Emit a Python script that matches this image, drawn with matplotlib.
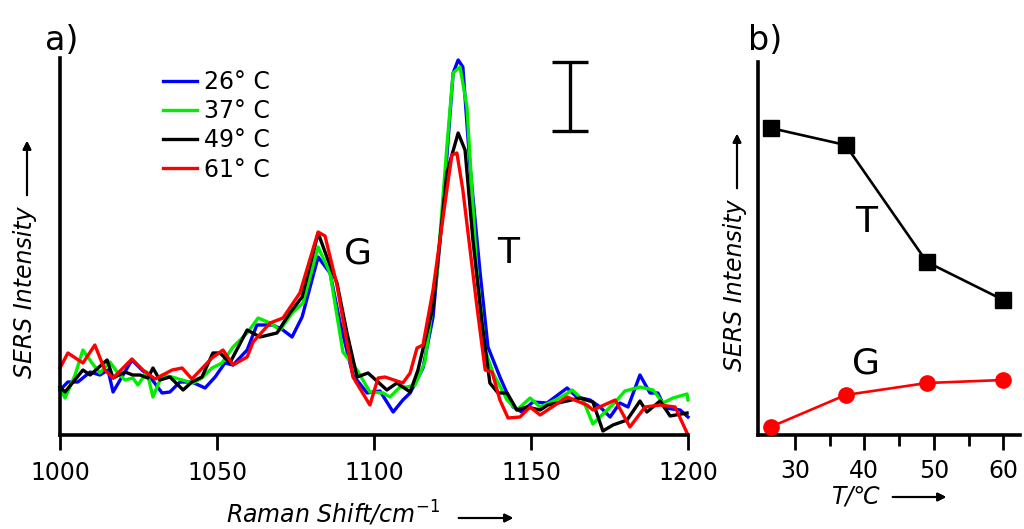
import numpy as np
import matplotlib
matplotlib.use('Agg')
import matplotlib.pyplot as plt

plt.rcParams['font.family'] = ['DejaVu Sans']

# --- panel a: spectra (Raman shift in cm-1, intensity in arbitrary units) ---
x26 = [1000, 1002.5, 1005.7, 1009.6, 1012.7, 1015.3, 1016.9, 1019.7, 1022.9, 1026.1, 1028.7,
       1032.5, 1035.0, 1038.2, 1042.0, 1046.2, 1049.4, 1052.5, 1055.1, 1059.6, 1062.7, 1067.8,
       1071.0, 1073.9, 1077.1, 1082.2, 1086.0, 1089.2, 1093.3, 1097.8, 1101.9, 1106.1, 1109.2,
       1111.5, 1115.6, 1118.8, 1122.0, 1125.2, 1126.8, 1128.3, 1130.6, 1133.8, 1136.3, 1140.1,
       1144.3, 1147.1, 1150.6, 1155.1, 1161.5, 1164.6, 1168.8, 1172.0, 1175.2, 1178.3, 1180.9,
       1184.7, 1187.9, 1190.4, 1192.7, 1197.5, 1200]
y26 = [45, 53, 53, 63, 60, 65, 43, 58, 75, 65, 58,
       42, 43, 53, 53, 47, 58, 72, 70, 85, 110, 110,
       105, 98, 118, 178, 162, 112, 60, 42, 44, 23, 35,
       42, 67, 118, 228, 362, 375, 368, 268, 162, 88, 58,
       28, 23, 33, 32, 47, 38, 35, 28, 18, 32, 28,
       60, 42, 42, 27, 25, 18]

x37 = [1000, 1001.6, 1004.8, 1007.3, 1010.2, 1012.7, 1015.9, 1018.2, 1020.7, 1023.2, 1024.8,
       1027.7, 1029.6, 1032.5, 1035.7, 1038.9, 1042.4, 1045.2, 1048.4, 1051.6, 1055.1, 1059.6,
       1063.1, 1066.9, 1070.1, 1074.2, 1077.4, 1082.2, 1086.0, 1090.1, 1094.6, 1098.7, 1102.9,
       1105.1, 1108.3, 1110.5, 1113.1, 1116.2, 1120.1, 1123.2, 1125.2, 1127.4, 1129.6, 1132.8,
       1135.4, 1137.9, 1142.4, 1145.5, 1149.7, 1152.9, 1159.2, 1163.1, 1166.6, 1169.7, 1173.6,
       1177.4, 1179.9, 1184.7, 1188.9, 1192.0, 1195.2, 1199.7, 1200]
y37 = [47, 37, 60, 85, 72, 62, 73, 63, 55, 57, 50,
       63, 38, 60, 58, 55, 52, 57, 67, 72, 88, 102,
       117, 112, 105, 123, 132, 188, 162, 83, 65, 43, 42,
       38, 48, 48, 50, 73, 162, 288, 362, 368, 328, 162,
       85, 62, 35, 25, 37, 28, 37, 45, 35, 11, 23,
       35, 44, 48, 45, 32, 37, 41, 35]

x49 = [1000, 1001.6, 1007.3, 1009.6, 1015.0, 1016.9, 1020.7, 1023.2, 1025.5, 1028.0, 1029.6,
       1031.8, 1035.0, 1039.2, 1042.0, 1045.2, 1048.7, 1051.0, 1054.1, 1059.6, 1063.7, 1069.1,
       1073.2, 1077.1, 1082.2, 1085.0, 1088.2, 1091.4, 1094.6, 1098.1, 1104.1, 1107.3, 1111.5,
       1114.0, 1118.8, 1123.2, 1126.8, 1129.0, 1131.5, 1134.4, 1136.9, 1139.5, 1142.4, 1145.5,
       1148.7, 1152.9, 1155.4, 1161.5, 1165.6, 1169.7, 1172.9, 1176.1, 1180.6, 1184.7, 1186.9,
       1191.1, 1194.3, 1199.7]
y49 = [48, 43, 65, 60, 75, 57, 63, 60, 60, 57, 67,
       55, 58, 45, 53, 58, 82, 82, 72, 105, 98, 102,
       122, 138, 202, 178, 152, 102, 58, 62, 45, 52, 43,
       65, 128, 262, 302, 285, 195, 112, 52, 42, 42, 25,
       28, 25, 30, 34, 37, 33, 4, 10, 15, 34, 23,
       34, 19, 22]

x61 = [1000, 1002.5, 1007.3, 1011.1, 1014.3, 1016.9, 1022.9, 1026.4, 1030.3, 1035.7, 1038.9,
       1042.0, 1048.4, 1051.9, 1055.1, 1059.6, 1061.5, 1066.9, 1071.0, 1076.4, 1082.2, 1084.4,
       1088.2, 1093.3, 1098.7, 1101.3, 1103.5, 1109.2, 1111.5, 1113.7, 1115.6, 1118.8, 1123.2,
       1124.8, 1126.4, 1128.3, 1132.8, 1135.4, 1137.6, 1140.1, 1142.7, 1146.5, 1149.7, 1152.9,
       1161.5, 1167.8, 1169.7, 1176.8, 1181.5, 1186.3, 1191.1, 1195.9, 1199.7]
y61 = [67, 82, 72, 90, 65, 57, 76, 65, 56, 65, 67,
       56, 77, 85, 70, 78, 93, 112, 117, 142, 203, 199,
       150, 58, 30, 57, 58, 52, 62, 87, 90, 145, 245,
       280, 282, 245, 128, 65, 63, 35, 17, 18, 28, 20,
       38, 30, 25, 35, 8, 28, 30, 28, 2]

labels = ['26° C', '37° C', '49° C', '61° C']
colors = ['#0000ff', '#00ee00', '#000000', '#ff0000']

# --- panel b: band intensities vs temperature ---
temp = [26.5, 37.3, 49, 60]
trans_int = [307, 290, 173, 135]
gauche_int = [8, 40, 52, 55]

fig = plt.figure(figsize=(10.24, 5.29), dpi=100)
ax = fig.add_axes([60/1024, 94/529, 628/1024, 377/529])
ax2 = fig.add_axes([758/1024, 94/529, 262/1024, 373/529])

for xs, ys, lab, c in zip([x26, x37, x49, x61], [y26, y37, y49, y61], labels, colors):
    ax.plot(xs, ys, color=c, lw=2.4, label=lab, clip_on=False)

ax.set_xlim(1000, 1200)
ax.set_ylim(0, 377)
ax.set_xticks([1000, 1050, 1100, 1150, 1200])
ax.set_yticks([])
for s in ['top', 'right']:
    ax.spines[s].set_visible(False)
ax.spines['left'].set_linewidth(2.6)
ax.spines['bottom'].set_linewidth(2.6)
ax.tick_params(axis='x', direction='out', length=11, width=2, labelsize=17, pad=8)

ax.legend(loc='upper left', bbox_to_anchor=(163/1024, 1 - 70/529), bbox_transform=fig.transFigure,
          frameon=False, fontsize=17, borderpad=0, borderaxespad=0,
          handlelength=1.45, handletextpad=0.3, labelspacing=0.22)

# scale bar
ax.errorbar([1162.4], [338.5], yerr=[[34.5], [34.5]], fmt='none', ecolor='k',
            elinewidth=2.4, capsize=13, capthick=2.4)

ax.text(1094.9, 182, 'G', fontsize=26, ha='center', va='center')
ax.text(1142.7, 182, 'T', fontsize=26, ha='center', va='center')

ax2.plot(temp, trans_int, '-s', color='k', lw=1.9, ms=11.5, clip_on=False, zorder=3)
ax2.plot(temp, gauche_int, '-o', color='#ff0000', lw=1.9, ms=11, clip_on=False, zorder=3)
ax2.set_xlim(24.7, 62.4)
ax2.set_ylim(0, 373)
ax2.set_xticks([30, 40, 50, 60])
ax2.set_xticks([35, 45, 55], minor=True)
ax2.set_yticks([])
for s in ['top', 'right']:
    ax2.spines[s].set_visible(False)
ax2.spines['left'].set_linewidth(2.6)
ax2.spines['bottom'].set_linewidth(2.6)
ax2.tick_params(axis='x', which='major', direction='out', length=11, width=2, labelsize=17, pad=6)
ax2.tick_params(axis='x', which='minor', direction='out', length=8, width=2)
ax2.text(40.3, 213, 'T', fontsize=26, ha='center', va='center')
ax2.text(40.3, 71, 'G', fontsize=26, ha='center', va='center')

# panel letters and axis labels
fig.text(45/1024, 1 - 40/529, 'a)', fontsize=24, ha='left', va='center')
fig.text(748/1024, 1 - 40/529, 'b)', fontsize=24, ha='left', va='center')

fig.text(25/1024, 1 - 292/529, 'SERS Intensity', fontsize=17, style='italic',
         rotation=90, ha='center', va='center')
fig.text(735/1024, 1 - 285/529, 'SERS Intensity', fontsize=17, style='italic',
         rotation=90, ha='center', va='center')
fig.text(333/1024, 1 - 523/529, 'Raman Shift/cm$^{-1}$', fontsize=17, style='italic',
         ha='center', va='baseline')
fig.text(856/1024, 1 - 497/529, 'T/\u2103', fontsize=17, style='italic',
         ha='center', va='center')

arrow = dict(arrowstyle='-|>', color='k', lw=1.5, mutation_scale=12)
fig.add_artist(plt.annotate('', xy=(27/1024, 1 - 138/529), xytext=(27/1024, 1 - 198/529),
                            xycoords='figure fraction', arrowprops=arrow))
fig.add_artist(plt.annotate('', xy=(737/1024, 1 - 131/529), xytext=(737/1024, 1 - 191/529),
                            xycoords='figure fraction', arrowprops=arrow))
fig.add_artist(plt.annotate('', xy=(516/1024, 1 - 518/529), xytext=(456/1024, 1 - 518/529),
                            xycoords='figure fraction', arrowprops=arrow))
fig.add_artist(plt.annotate('', xy=(949/1024, 1 - 497/529), xytext=(890/1024, 1 - 497/529),
                            xycoords='figure fraction', arrowprops=arrow))

fig.savefig('out.png', dpi=100)
